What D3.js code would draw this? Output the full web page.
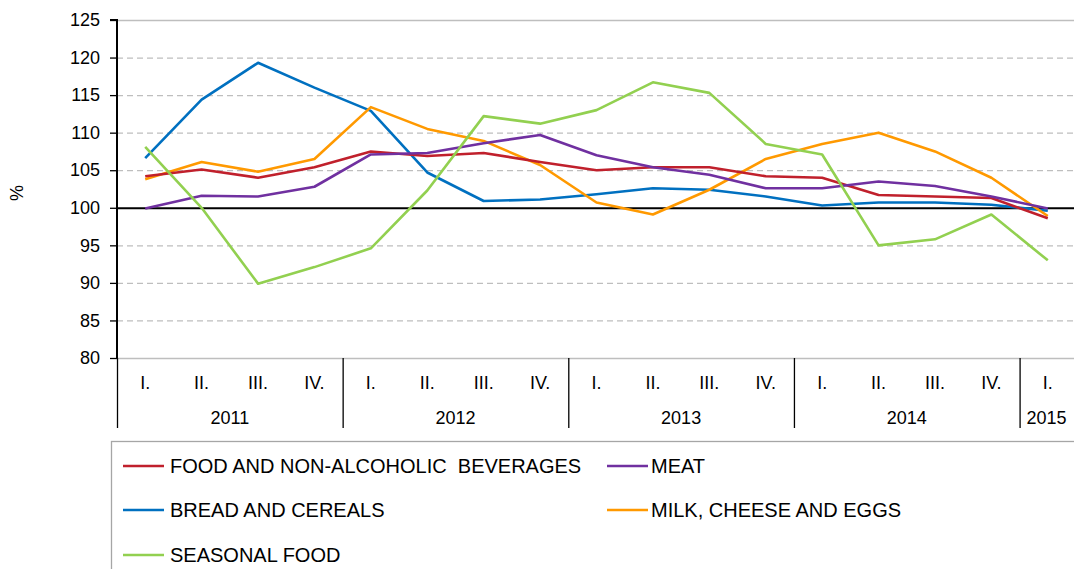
<!DOCTYPE html>
<html>
<head>
<meta charset="utf-8">
<script src="https://cdn.jsdelivr.net/npm/d3@7"></script>
<style>
  body { margin: 0; background: #fff; }
  svg { display: block; font-family: 'Liberation Sans', Arial, sans-serif; }
</style>
</head>
<body>
<div id="chart"></div>
<script>
// data
const years = ['2011', '2012', '2013', '2014', '2015'];
const quartersPerYear = [4, 4, 4, 4, 1];
const quarterNames = ['I.', 'II.', 'III.', 'IV.'];
const yTicks = [80, 85, 90, 95, 100, 105, 110, 115, 120, 125];

const food = [104.2, 105.1, 104.0, 105.4, 107.5, 106.9, 107.3, 106.1, 105.0, 105.4, 105.4, 104.2, 104.0, 101.7, 101.5, 101.3, 98.6];
const meat = [99.9, 101.6, 101.5, 102.8, 107.1, 107.3, 108.6, 109.7, 107.0, 105.4, 104.4, 102.6, 102.6, 103.5, 102.9, 101.5, 99.9];
const bread = [106.6, 114.4, 119.3, 116.0, 112.9, 104.7, 100.9, 101.1, 101.8, 102.6, 102.4, 101.5, 100.3, 100.7, 100.7, 100.4, 99.6];
const milk = [103.8, 106.1, 104.8, 106.5, 113.4, 110.5, 108.9, 105.7, 100.7, 99.1, 102.4, 106.5, 108.5, 110.0, 107.5, 104.0, 98.9];
const seasonal = [108.1, 100.0, 89.9, 92.1, 94.6, 102.3, 112.2, 111.2, 113.0, 116.7, 115.3, 108.5, 107.1, 95.0, 95.8, 99.1, 93.0];

const series = [
  { name: 'FOOD AND NON-ALCOHOLIC  BEVERAGES', color: '#C0202C', values: food },
  { name: 'MEAT', color: '#7030A0', values: meat },
  { name: 'BREAD AND CEREALS', color: '#0070C0', values: bread },
  { name: 'MILK, CHEESE AND EGGS', color: '#FF9900', values: milk },
  { name: 'SEASONAL FOOD', color: '#92D050', values: seasonal }
];
// seasonal food sits on top of the others in the picture
const drawOrder = ['BREAD AND CEREALS', 'MILK, CHEESE AND EGGS', 'FOOD AND NON-ALCOHOLIC  BEVERAGES', 'MEAT', 'SEASONAL FOOD'];

// build quarter list
const quarters = [];
years.forEach((y, i) => {
  for (let q = 0; q < quartersPerYear[i]; q++) quarters.push({ year: y, q: quarterNames[q], idx: quarters.length });
});

const W = 1074, H = 569;
const plot = { left: 117, right: 1076, top: 20, bottom: 358 };

const svg = d3.select('#chart')
  .append('svg')
  .attr('width', W)
  .attr('height', H);

const x = d3.scaleBand()
  .domain(quarters.map(d => d.idx))
  .range([plot.left, plot.right]);

const y = d3.scaleLinear()
  .domain([80, 125])
  .range([plot.bottom, plot.top]);

// gridlines
svg.append('g')
  .selectAll('line')
  .data(yTicks)
  .enter()
  .append('line')
  .attr('x1', plot.left)
  .attr('x2', W)
  .attr('y1', d => y(d) + 0.5)
  .attr('y2', d => y(d) + 0.5)
  .attr('stroke', d => d === 100 ? '#000' : '#BEBEBE')
  .attr('stroke-width', d => d === 100 ? 2 : 1.3)
  .attr('stroke-dasharray', d => (d === 80 || d === 125 || d === 100) ? null : '6,4');

// y axis
const yAxis = d3.axisLeft(y)
  .tickValues(yTicks)
  .tickSize(7)
  .tickPadding(10);

const gy = svg.append('g')
  .attr('transform', `translate(${plot.left},0)`)
  .call(yAxis);
gy.select('.domain').attr('stroke', '#000').attr('stroke-width', 2).attr('d', `M-7,${y(125)}H0V${plot.bottom}`);
gy.selectAll('.tick line').attr('stroke', '#000').attr('stroke-width', 1.3);
gy.selectAll('.tick text')
  .attr('font-size', 18)
  .attr('font-family', "'Liberation Sans', Arial, sans-serif")
  .attr('fill', '#000');

// y label
svg.append('text')
  .attr('transform', `translate(23,193) rotate(-90)`)
  .attr('text-anchor', 'middle')
  .attr('font-size', 18)
  .text('%');

// category axis: quarter labels
svg.append('g')
  .selectAll('text')
  .data(quarters)
  .enter()
  .append('text')
  .attr('x', d => x(d.idx) + x.bandwidth() / 2)
  .attr('y', 389)
  .attr('text-anchor', 'middle')
  .attr('font-size', 18)
  .text(d => d.q);

// year groups
const yearGroups = years.map((yr, i) => {
  const qs = quarters.filter(d => d.year === yr);
  return { year: yr, start: x(qs[0].idx), end: x(qs[qs.length - 1].idx) + x.bandwidth() };
});

svg.append('g')
  .selectAll('line')
  .data(yearGroups)
  .enter()
  .append('line')
  .attr('x1', d => d.start + 0.5)
  .attr('x2', d => d.start + 0.5)
  .attr('y1', plot.bottom)
  .attr('y2', 428)
  .attr('stroke', '#000')
  .attr('stroke-width', 1.3);

svg.append('g')
  .selectAll('text')
  .data(yearGroups)
  .enter()
  .append('text')
  .attr('x', d => d.year === '2015' ? d.start + 27 : (d.start + d.end) / 2)
  .attr('y', 424)
  .attr('text-anchor', 'middle')
  .attr('font-size', 18)
  .text(d => d.year);

// lines
const line = d3.line()
  .x((d, i) => x(i) + x.bandwidth() / 2)
  .y(d => y(d));

svg.append('g')
  .selectAll('path')
  .data(drawOrder.map(n => series.find(s => s.name === n)))
  .enter()
  .append('path')
  .attr('fill', 'none')
  .attr('stroke', d => d.color)
  .attr('stroke-width', 2.6)
  .attr('stroke-linejoin', 'round')
  .attr('d', d => line(d.values));

// legend
const legend = svg.append('g').attr('id', 'legend');
legend.append('rect')
  .attr('x', 111.5)
  .attr('y', 441.5)
  .attr('width', 1000)
  .attr('height', 200)
  .attr('fill', '#fff')
  .attr('stroke', '#A6A6A6')
  .attr('stroke-width', 1.3);

const legendPos = [
  { lx: 123, tx: 170, ty: 466 },
  { lx: 607, tx: 651, ty: 466 },
  { lx: 123, tx: 170, ty: 510 },
  { lx: 607, tx: 651, ty: 510 },
  { lx: 123, tx: 170, ty: 555 }
];

const items = legend.selectAll('g.item')
  .data(series)
  .enter()
  .append('g')
  .attr('class', 'item');

items.append('line')
  .attr('x1', (d, i) => legendPos[i].lx)
  .attr('x2', (d, i) => legendPos[i].lx + 41)
  .attr('y1', (d, i) => legendPos[i].ty)
  .attr('y2', (d, i) => legendPos[i].ty)
  .attr('stroke', d => d.color)
  .attr('stroke-width', 2.6);

items.append('text')
  .attr('x', (d, i) => legendPos[i].tx)
  .attr('y', (d, i) => legendPos[i].ty)
  .attr('dy', '0.35em')
  .attr('font-size', 20)
  .attr('xml:space', 'preserve')
  .style('white-space', 'pre')
  .text(d => d.name);
</script>
</body>
</html>
